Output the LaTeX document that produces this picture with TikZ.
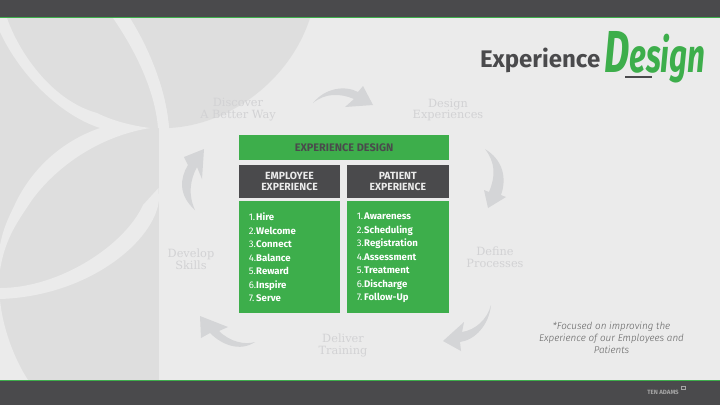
\documentclass[tikz,border=0pt]{standalone}
\usepackage{fontspec}
\setmainfont{Fira Sans}
\newfontfamily\ghostfont{DejaVu Serif}
\newfontfamily\handfont{Fira Sans}[UprightFont=* Bold,ItalicFont=* Bold Italic]
\newfontfamily\notefont{Fira Sans Light}[ItalicFont=Fira Sans Light Italic]
\definecolor{bgc}{HTML}{EBEBEB}
\definecolor{lobe}{HTML}{DEDEDE}
\definecolor{bar}{HTML}{4A4A4C}
\definecolor{grn}{HTML}{3DAE4B}
\definecolor{ghost}{HTML}{D2D2D4}
\definecolor{arrowc}{HTML}{D4D5D7}
\tikzset{
 greenbox/.style={fill=grn,draw=none,anchor=north west,inner sep=0pt},
 darkbox/.style={fill=bar,draw=none,anchor=north west,inner sep=0pt},
 ghosttext/.style={text=ghost,align=center,font=\ghostfont\fontsize{8.5}{9}\selectfont,inner sep=0pt},
 headtext/.style={text=white!92!black,align=center,font=\fontsize{7.8}{8}\selectfont\bfseries},
 listtext/.style={text=white,anchor=north west,align=left,inner sep=0pt,font=\fontsize{7.2}{10.13}\selectfont},
 curl/.style={fill=arrowc,draw=none},
}
\newcommand{\li}[2]{\makebox[5.6pt][l]{#1.}\textbf{#2}\\}
\begin{document}
\begin{tikzpicture}[x=0.75pt,y=-0.75pt]
\useasboundingbox (0,0) rectangle (720,405);
\fill[bgc] (0,0) rectangle (720,405);
% emblem
\begin{scope}
\clip (0,18) rectangle (320,380);
\fill[lobe] (0,18) rectangle (159,380);
\fill[lobe] (130,18) .. controls (150,50) and (166,90) .. (169,128) .. controls (230,125) and (290,80) .. (310,18) -- cycle;
% band A
\fill[bgc] (7,18) .. controls (18,50) and (50,100) .. (97,113) .. controls (115,122) and (135,126) .. (150,128) .. controls (130,128) and (115,128) .. (100,128) .. controls (60,115) and (20,75) .. (0,32) -- (0,18) -- cycle;
% band B
\fill[bgc] (150,128) .. controls (130,128) and (115,128) .. (100,128) .. controls (65,140) and (35,165) .. (17,200) .. controls (10,215) and (4,225) .. (0,245) -- (0,270) .. controls (5,240) and (15,225) .. (32,200) .. controls (50,175) and (90,138) .. (150,128) -- cycle;
% band C
\fill[bgc] (113,18) .. controls (135,50) and (155,90) .. (158,128) -- (172,128) -- (169,128) .. controls (166,90) and (150,50) .. (130,18) -- cycle;
% band D
\fill[bgc] (158.5,188) -- (159,200) .. controls (155,240) and (90,296) .. (0,299) -- (0,288) .. controls (60,288) and (125,245) .. (143,205) -- cycle;
% bottom-left corner
\fill[bgc] (0,300) .. controls (3,330) and (15,360) .. (28,380) -- (0,380) -- cycle;
\fill[bgc] (159,128.5) rectangle (172,380);
\end{scope}
% bars
\fill[bar] (0,0) rectangle (720,17);
\fill[grn] (0,17) rectangle (720,18);
\fill[bar] (0,380) rectangle (720,405);
\fill[grn] (0,380) rectangle (720,381);
% ghost labels
\node[ghosttext] (discover) at (238,110) {Discover\\A Better Way};
\node[ghosttext] (designexp) at (448,110) {Design\\Experiences};
\node[ghosttext] (define) at (495,257.5) {Define\\Processes};
\node[ghosttext] (deliver) at (343,345) {Deliver\\Training};
\node[ghosttext] (develop) at (191,259) {Develop\\Skills};
% curls
\fill[curl] (313,103) .. controls (325,88) and (345,85) .. (358,92) -- (363,86) -- (373,105) -- (345,107) -- (354,99) .. controls (340,93) and (325,93) .. (313,103) -- cycle;
\fill[curl] (485,149) .. controls (503,160) and (507,178) .. (501,195) -- (506,197) -- (488,208) -- (484,190) -- (489,192) .. controls (496,175) and (495,162) .. (485,149) -- cycle;
\fill[curl] (491,305) .. controls (489,325) and (475,340) .. (460,342) -- (461,351) -- (443,341) -- (464,322) -- (462,332) .. controls (475,330) and (487,320) .. (491,305) -- cycle;
\fill[curl] (255,342) .. controls (240,352) and (222,345) .. (210,333) -- (201,338) -- (200,316) -- (228,327) -- (219,331) .. controls (230,342) and (245,345) .. (255,342) -- cycle;
\fill[curl] (195,210) .. controls (178,195) and (180,178) .. (188,165) -- (184,157) -- (204,149) -- (202,179) -- (197,167) .. controls (190,180) and (188,195) .. (195,210) -- cycle;
% boxes
\node[greenbox,minimum width=157.9pt,minimum height=19pt] (title) at (238.5,134.5) {};
\node[text=bar,font=\fontsize{8.2}{9}\selectfont\bfseries] at (title.center) {EXPERIENCE DESIGN};
\node[darkbox,minimum width=76.1pt,minimum height=24.75pt] (emp) at (238.5,164.5) {};
\node[headtext] at (emp.center) {EMPLOYEE\\EXPERIENCE};
\node[darkbox,minimum width=76.1pt,minimum height=24.75pt] (pat) at (346.8,164.5) {};
\node[headtext] at (pat.center) {PATIENT\\EXPERIENCE};
\node[greenbox,minimum width=76.1pt,minimum height=84pt] (empl) at (238.5,201.2) {};
\node[greenbox,minimum width=76.1pt,minimum height=84pt] (patl) at (346.8,201.2) {};
\node[listtext] (l1) at (248.5,212.7) {\li{1}{Hire}\li{2}{Welcome}\li{3}{Connect}\li{4}{Balance}\li{5}{Reward}\li{6}{Inspire}\li{7}{Serve}};
\node[listtext] (l2) at (356.5,212.7) {\li{1}{Awareness}\li{2}{Scheduling}\li{3}{Registration}\li{4}{Assessment}\li{5}{Treatment}\li{6}{Discharge}\li{7}{Follow-Up}};
% heading
\node[text=bar,anchor=east,inner sep=0pt,font=\fontsize{18}{20}\selectfont\bfseries] (exp) at (600.5,60.5) {Experience};
\node[text=grn,anchor=west,inner sep=0pt,xscale=0.98,yscale=1.48,font=\handfont\fontsize{24}{24}\selectfont\itshape] (des) at (604,57) {{\fontsize{30}{30}\selectfont D}esign};
\draw[bar,line width=0.9pt] (625,77) -- (652,77);
% footnote
\node[text=black!62,align=center,font=\notefont\fontsize{7.4}{9}\selectfont\itshape,inner sep=0pt] (note) at (611.5,338) {*Focused on improving the\\Experience of our Employees and\\Patients};
\node[text=black!35,inner sep=0pt,font=\fontsize{4.6}{5}\selectfont\bfseries] (ten) at (663,392.5) {TEN ADAMS};
\draw[black!35,line width=0.3pt] (681.5,386) rectangle (685,389);
\end{tikzpicture}
\end{document}
